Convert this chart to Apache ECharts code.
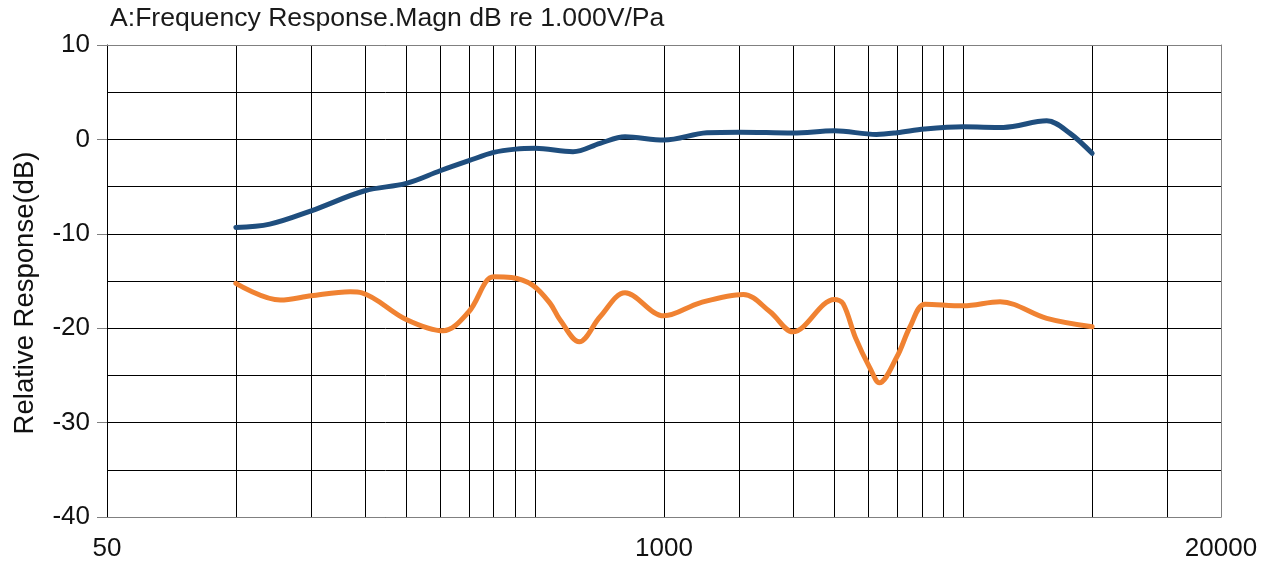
<!DOCTYPE html>
<html>
<head>
<meta charset="utf-8">
<script src="https://cdn.jsdelivr.net/npm/echarts@6/dist/echarts.min.js"></script>
<style>html,body{margin:0;padding:0;background:#fff;}#c{width:1262px;height:578px;}</style>
</head>
<body>
<div id="c"></div>
<script>
// ---- data ----
const titleText = 'A:Frequency Response.Magn dB re 1.000V/Pa';
const yName = 'Relative Response(dB)';
const xLabelValues = [50, 1000, 20000];
const xGridValues = [50, 100, 150, 200, 250, 300, 350, 400, 450, 500, 1000, 1500, 2000, 2500, 3000, 3500, 4000, 4500, 5000, 10000, 15000, 20000];
const blueFreq = [100, 120, 150, 200, 250, 300, 350, 400, 450, 500, 613, 709, 811, 1000, 1259, 1500, 2000, 2500, 3135, 3500, 4060, 5000, 6204, 7834, 8880, 10000];
const blueDb   = [-9.33, -8.97, -7.56, -5.44, -4.66, -3.32, -2.26, -1.38, -1.03, -0.95, -1.31, -0.42, 0.28, -0.07, 0.7, 0.77, 0.67, 0.91, 0.53, 0.7, 1.09, 1.33, 1.27, 1.97, 0.64, -1.48];
const orangeFreq = [100, 127, 150, 185, 197, 250, 305, 350, 400, 440, 493, 542, 572, 634, 709, 811, 1000, 1214, 1532, 1769, 2000, 2500, 2620, 2800, 3030, 3184, 3500, 3756, 4071, 5000, 6095, 7834, 10000];
const orangeDb   = [-15.25, -17.02, -16.57, -16.14, -16.25, -19.07, -20.27, -18.26, -14.55, -14.62, -15.43, -17.37, -19.14, -21.44, -18.79, -16.25, -18.69, -17.31, -16.42, -18.26, -20.38, -16.95, -17.4, -21.0, -24.26, -25.78, -23.03, -19.85, -17.45, -17.63, -17.2, -18.96, -19.85];

const zip = (xs, ys) => xs.map((x, i) => [x, ys[i]]);
const FONT = 'Liberation Sans, Arial, sans-serif';

const chart = echarts.init(document.getElementById('c'), null, {renderer: 'canvas'});
chart.setOption({
  animation: false,
  backgroundColor: '#fff',
  title: {
    text: titleText, left: 110, top: 5, padding: 0,
    textStyle: {fontFamily: FONT, fontSize: 26.6, fontWeight: 'normal', color: '#1a1a1a'}
  },
  grid: {left: 107, right: 41, top: 45, bottom: 61, containLabel: false},
  xAxis: [{
    type: 'log', logBase: 10, min: 50, max: 20000,
    axisLine: {show: true, onZero: false, lineStyle: {color: '#808080', width: 1}},
    axisTick: {show: false, customValues: xGridValues},
    axisLabel: {
      customValues: xLabelValues, margin: 19, showMinLabel: true, showMaxLabel: true,
      fontFamily: FONT, fontSize: 26, color: '#111',
      formatter: v => String(Math.round(v))
    },
    splitLine: {show: true, lineStyle: {color: '#000', width: 1}},
    minorSplitLine: {show: false}
  }, {
    type: 'log', logBase: 10, min: 50, max: 20000, position: 'top',
    axisLine: {show: true, onZero: false, lineStyle: {color: '#808080', width: 1}},
    axisTick: {show: false}, axisLabel: {show: false}, splitLine: {show: false}
  }],
  yAxis: [{
    type: 'value', min: -40, max: 10, interval: 10,
    name: yName, nameLocation: 'middle', nameGap: 68,
    nameTextStyle: {fontFamily: FONT, fontSize: 27.5, color: '#111', padding: [0, 24, 0, 0]},
    axisLine: {show: true, onZero: false, lineStyle: {color: '#000', width: 1}},
    axisTick: {show: true, length: 10, lineStyle: {color: '#808080'}},
    axisLabel: {margin: 17, fontFamily: FONT, fontSize: 26, color: '#111'},
    splitLine: {show: true, lineStyle: {color: '#000', width: 1}},
    minorTick: {show: false, splitNumber: 2},
    minorSplitLine: {show: true, lineStyle: {color: '#000', width: 1}}
  }, {
    type: 'value', min: -40, max: 10, interval: 10, position: 'right',
    axisLine: {show: true, onZero: false, lineStyle: {color: '#808080', width: 1}},
    axisTick: {show: false}, axisLabel: {show: false}, splitLine: {show: false}
  }],
  series: [{
    type: 'line', name: 'Magnitude', xAxisIndex: 0, yAxisIndex: 0,
    data: zip(blueFreq, blueDb), smooth: 0.35, showSymbol: false,
    lineStyle: {color: '#1F4E7E', width: 5, cap: 'round'}, z: 3
  }, {
    type: 'line', name: 'Orange', xAxisIndex: 0, yAxisIndex: 0,
    data: zip(orangeFreq, orangeDb), smooth: 0.35, showSymbol: false,
    lineStyle: {color: '#F08232', width: 5, cap: 'round'}, z: 3
  }]
});
</script>
</body>
</html>
